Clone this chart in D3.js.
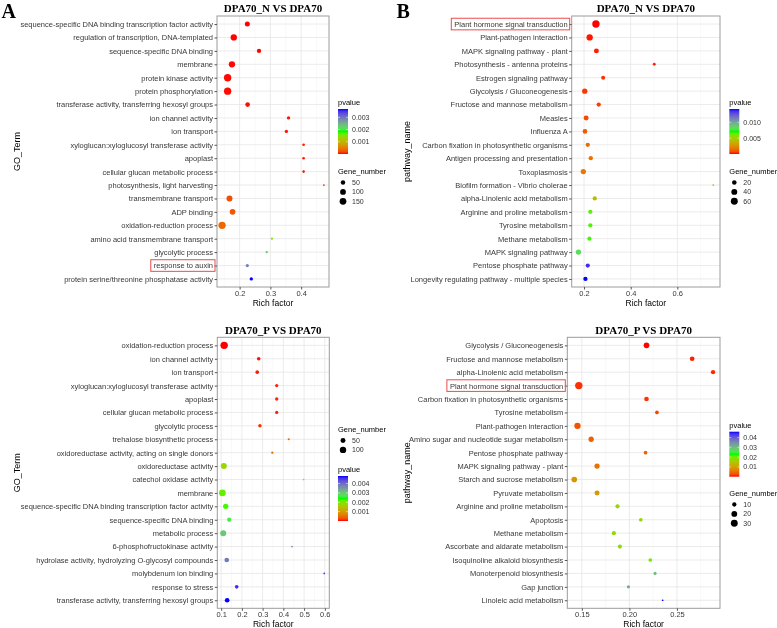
<!DOCTYPE html>
<meta charset="utf-8">
<style>
    body { margin: 0; background: #fff; }
    svg { font-family: "Liberation Sans", Arial, sans-serif; will-change: transform; }
</style>
<svg width="777" height="628"></svg>
<script src="https://d3js.org/d3.v7.min.js"></script>
<script>
    // ---- panel A: GO terms, DPA70_N vs DPA70 ----
    var termsA = ["sequence-specific DNA binding transcription factor activity", "regulation of transcription, DNA-templated",
        "sequence-specific DNA binding", "membrane", "protein kinase activity", "protein phosphorylation",
        "transferase activity, transferring hexosyl groups", "ion channel activity", "ion transport",
        "xyloglucan:xyloglucosyl transferase activity", "apoplast", "cellular glucan metabolic process",
        "photosynthesis, light harvesting", "transmembrane transport", "ADP binding", "oxidation-reduction process",
        "amino acid transmembrane transport", "glycolytic process", "response to auxin",
        "protein serine/threonine phosphatase activity"];
    var richA = [0.225, 0.181, 0.263, 0.175, 0.161, 0.161, 0.226, 0.359, 0.352, 0.408, 0.408, 0.408, 0.474, 0.167, 0.177, 0.143, 0.305, 0.288, 0.225, 0.238];
    var geneA = [67, 125, 44, 125, 190, 188, 55, 20, 19, 10, 10, 10, 5, 110, 95, 180, 7, 8, 18, 20];
    var pvalA = [0.000001, 0.000002, 0.000004, 0.000006, 0.000008, 0.00001, 0.000015, 0.00002, 0.000025, 0.00003, 0.00003, 0.00003, 0.00005, 0.0002, 0.00024, 0.00035, 0.00147, 0.0022, 0.0029, 0.00368];
    var ticksA = [0.2, 0.3, 0.4];
    var pBreaksA = [0.001, 0.002, 0.003];
    var gBreaksA = [50, 100, 150];

    // ---- panel B: KEGG pathways, DPA70_N vs DPA70 ----
    var termsB = ["Plant hormone signal transduction", "Plant-pathogen interaction", "MAPK signaling pathway - plant",
        "Photosynthesis - antenna proteins", "Estrogen signaling pathway", "Glycolysis / Gluconeogenesis",
        "Fructose and mannose metabolism", "Measles", "Influenza A", "Carbon fixation in photosynthetic organisms",
        "Antigen processing and presentation", "Toxoplasmosis", "Biofilm formation - Vibrio cholerae",
        "alpha-Linolenic acid metabolism", "Arginine and proline metabolism", "Tyrosine metabolism",
        "Methane metabolism", "MAPK signaling pathway", "Pentose phosphate pathway",
        "Longevity regulating pathway - multiple species"];
    var richB = [0.251, 0.224, 0.253, 0.501, 0.282, 0.203, 0.263, 0.209, 0.204, 0.216, 0.229, 0.197, 0.754, 0.246, 0.227, 0.227, 0.223, 0.176, 0.216, 0.206];
    var geneB = [70, 47, 25, 6, 14, 30, 17, 25, 21, 17, 17, 30, 3, 17, 17, 17, 16, 30, 16, 17];
    var pvalB = [0.000001, 0.0001, 0.00015, 0.0002, 0.0003, 0.0004, 0.0005, 0.0007, 0.001, 0.0014, 0.0016, 0.0018, 0.0040, 0.0041, 0.0066, 0.0067, 0.0068, 0.0082, 0.0136, 0.0142];
    var ticksB = [0.2, 0.4, 0.6];
    var pBreaksB = [0.005, 0.010];
    var gBreaksB = [20, 40, 60];

    // ---- panel C: GO terms, DPA70_P vs DPA70 ----
    var termsC = ["oxidation-reduction process", "ion channel activity", "ion transport",
        "xyloglucan:xyloglucosyl transferase activity", "apoplast", "cellular glucan metabolic process",
        "glycolytic process", "trehalose biosynthetic process", "oxidoreductase activity, acting on single donors",
        "oxidoreductase activity", "catechol oxidase activity", "membrane",
        "sequence-specific DNA binding transcription factor activity", "sequence-specific DNA binding",
        "metabolic process", "6-phosphofructokinase activity", "hydrolase activity, hydrolyzing O-glycosyl compounds",
        "molybdenum ion binding", "response to stress", "transferase activity, transferring hexosyl groups"];
    var richC = [0.1145, 0.281, 0.274, 0.368, 0.368, 0.368, 0.287, 0.426, 0.347, 0.113, 0.498, 0.106, 0.122, 0.139, 0.110, 0.442, 0.127, 0.597, 0.175, 0.129];
    var geneC = [150, 19, 19, 14, 14, 14, 16, 3, 4, 86, 2, 114, 62, 33, 86, 2, 42, 2, 19, 42];
    var pvalC = [0.000001, 0.00003, 0.00004, 0.00006, 0.00006, 0.00006, 0.0001, 0.00048, 0.00058, 0.0018, 0.002, 0.00216, 0.0023, 0.00264, 0.003, 0.0037, 0.00385, 0.0045, 0.0046, 0.0048];
    var ticksC = [0.1, 0.2, 0.3, 0.4, 0.5, 0.6];
    var pBreaksC = [0.001, 0.002, 0.003, 0.004];
    var gBreaksC = [50, 100];

    // ---- panel D: KEGG pathways, DPA70_P vs DPA70 ----
    var termsD = ["Glycolysis / Gluconeogenesis", "Fructose and mannose metabolism", "alpha-Linolenic acid metabolism",
        "Plant hormone signal transduction", "Carbon fixation in photosynthetic organisms", "Tyrosine metabolism",
        "Plant-pathogen interaction", "Amino sugar and nucleotide sugar metabolism", "Pentose phosphate pathway",
        "MAPK signaling pathway - plant", "Starch and sucrose metabolism", "Pyruvate metabolism",
        "Arginine and proline metabolism", "Apoptosis", "Methane metabolism", "Ascorbate and aldarate metabolism",
        "Isoquinoline alkaloid biosynthesis", "Monoterpenoid biosynthesis", "Gap junction", "Linoleic acid metabolism"];
    var richD = [0.218, 0.266, 0.288, 0.1468, 0.218, 0.229, 0.1454, 0.1598, 0.217, 0.166, 0.142, 0.166, 0.1875, 0.212, 0.1837, 0.190, 0.222, 0.227, 0.199, 0.235];
    var geneD = [19, 12, 10, 36, 12, 7, 25, 16, 7, 16, 19, 14, 9, 7, 9, 9, 7, 5, 5, 3];
    var pvalD = [0.00001, 0.0005, 0.0008, 0.001, 0.0012, 0.0018, 0.0028, 0.0037, 0.0039, 0.005, 0.0087, 0.0092, 0.017, 0.0175, 0.0176, 0.018, 0.0198, 0.03, 0.032, 0.046];
    var ticksD = [0.15, 0.20, 0.25];
    var pBreaksD = [0.01, 0.02, 0.03, 0.04];
    var gBreaksD = [10, 20, 30];

    var svg = d3.select("svg");
    var rainbow = d3.piecewise(d3.interpolateLab, ["#ff0000", "#00ff00", "#0000ff"]);
    var gradId = 0;

    function drawPanel(c) {
        var g = svg.append("g");
        var ext = d3.extent(c.rich), pad = (ext[1] - ext[0]) * 0.05;
        var x = d3.scaleLinear().domain([ext[0] - pad, ext[1] + pad]).range([c.left, c.right]);
        var y = d3.scalePoint().domain(c.terms).range([c.top, c.bottom]).padding(0.6);
        var col = d3.scaleSequential(rainbow).domain(d3.extent(c.pval));
        var gExt = d3.extent(c.genes);
        var diam = d3.scaleLinear().domain([0, 1]).range([1.7, 7.4]);
        function r(v) { return diam(Math.sqrt((v - gExt[0]) / (gExt[1] - gExt[0]))) / 2; }

        // grid
        var minor = [];
        var step = c.ticks[1] - c.ticks[0];
        for (var t = c.ticks[0] - step / 2; t < x.domain()[1]; t += step) {
            if (t > x.domain()[0]) minor.push(t);
        }
        g.selectAll(".minor").data(minor).enter().append("line")
            .attr("x1", x).attr("x2", x).attr("y1", c.top).attr("y2", c.bottom)
            .attr("stroke", "#f3f3f3").attr("stroke-width", 0.5);
        g.selectAll(".vmaj").data(c.ticks).enter().append("line")
            .attr("x1", x).attr("x2", x).attr("y1", c.top).attr("y2", c.bottom)
            .attr("stroke", "#e6e6e6").attr("stroke-width", 0.8);
        g.selectAll(".hmaj").data(c.terms).enter().append("line")
            .attr("x1", c.left).attr("x2", c.right).attr("y1", y).attr("y2", y)
            .attr("stroke", "#e6e6e6").attr("stroke-width", 0.8);

        // points
        g.selectAll(".pt").data(c.terms).enter().append("circle")
            .attr("cx", function(d, i) { return x(c.rich[i]); })
            .attr("cy", function(d) { return y(d); })
            .attr("r", function(d, i) { return r(c.genes[i]); })
            .attr("fill", function(d, i) { return col(c.pval[i]); });

        g.append("rect")
            .attr("x", c.left).attr("y", c.top)
            .attr("width", c.right - c.left).attr("height", c.bottom - c.top)
            .attr("fill", "none").attr("stroke", "#9c9c9c").attr("stroke-width", 1);

        // axes
        var ya = g.append("g").attr("transform", "translate(" + c.left + ",0)")
            .call(d3.axisLeft(y).tickSize(2.5).tickPadding(1.5));
        var xa = g.append("g").attr("transform", "translate(0," + c.bottom + ")")
            .call(d3.axisBottom(x).tickValues(c.ticks).tickFormat(d3.format(c.fmt)).tickSize(2.5).tickPadding(1.2));
        [ya, xa].forEach(function(a) {
            a.select(".domain").remove();
            a.selectAll("line").attr("stroke", "#555");
            a.selectAll("text").attr("fill", "#383838").style("font-size", "7.5px")
                .style("font-family", "'Liberation Sans', Arial, sans-serif");
        });

        // highlighted label
        if (c.box) {
            ya.selectAll(".tick").filter(function(d) { return d === c.box; }).each(function() {
                var bb = d3.select(this).select("text").node().getBBox();
                g.append("rect")
                    .attr("x", c.left + bb.x - 3).attr("y", y(c.box) - 5.8)
                    .attr("width", bb.width + 5).attr("height", 11.6)
                    .attr("fill", "none").attr("stroke", "#ee4a4a").attr("stroke-width", 1);
            });
        }

        // titles
        g.append("text").attr("x", (c.left + c.right) / 2).attr("y", c.top - 3.8)
            .attr("text-anchor", "middle").style("font-family", "'Liberation Serif', 'Times New Roman', serif")
            .style("font-weight", "bold").style("font-size", "11px").text(c.title);
        g.append("text").attr("x", (c.left + c.right) / 2).attr("y", c.bottom + 19)
            .attr("text-anchor", "middle").style("font-size", "8.5px").text("Rich factor");
        g.append("text").attr("transform", "translate(" + c.ylabX + "," + (c.top + c.bottom) / 2 + ") rotate(-90)")
            .attr("text-anchor", "middle").style("font-size", "9px").text(c.ylab);
        if (c.letter) {
            g.append("text").attr("x", c.letterX).attr("y", 17.5)
                .style("font-family", "'Liberation Serif', 'Times New Roman', serif")
                .style("font-weight", "bold").style("font-size", "20px").text(c.letter);
        }

        // pvalue colourbar
        var id = "grad" + (gradId++);
        var grad = svg.append("defs").append("linearGradient").attr("id", id)
            .attr("x1", 0).attr("y1", 1).attr("x2", 0).attr("y2", 0);
        d3.range(0, 1.0001, 0.05).forEach(function(s) {
            grad.append("stop").attr("offset", s).attr("stop-color", rainbow(s));
        });
        var lx = c.legX, bt = c.pTop, bh = 45;
        g.append("text").attr("x", lx).attr("y", bt - 4).style("font-size", "7.5px").text("pvalue");
        g.append("rect").attr("x", lx).attr("y", bt).attr("width", 10).attr("height", bh).attr("fill", "url(#" + id + ")");
        var py = d3.scaleLinear().domain(col.domain()).range([bt + bh, bt]);
        c.pBreaks.forEach(function(b) {
            g.append("line").attr("x1", lx).attr("x2", lx + 2).attr("y1", py(b)).attr("y2", py(b)).attr("stroke", "#fff").attr("stroke-width", 0.5);
            g.append("line").attr("x1", lx + 8).attr("x2", lx + 10).attr("y1", py(b)).attr("y2", py(b)).attr("stroke", "#fff").attr("stroke-width", 0.5);
            g.append("text").attr("x", lx + 14).attr("y", py(b)).attr("dy", "0.35em")
                .attr("fill", "#333").style("font-size", "7px").text(d3.format(c.pFmt)(b));
        });

        // Gene_number legend
        var gt = c.gTop;
        g.append("text").attr("x", lx).attr("y", gt).style("font-size", "7.5px").text("Gene_number");
        c.gBreaks.forEach(function(b, i) {
            var yy = gt + 8.5 + i * 9.4;
            g.append("circle").attr("cx", lx + 5).attr("cy", yy).attr("r", r(b)).attr("fill", "#000");
            g.append("text").attr("x", lx + 14).attr("y", yy).attr("dy", "0.35em")
                .attr("fill", "#333").style("font-size", "7px").text(b);
        });
    }

    drawPanel({terms: termsA, rich: richA, genes: geneA, pval: pvalA, ticks: ticksA, fmt: ".1f",
        pBreaks: pBreaksA, pFmt: ".3f", gBreaks: gBreaksA, left: 217, right: 329, top: 16, bottom: 287,
        title: "DPA70_N VS DPA70", ylab: "GO_Term", ylabX: 20, letter: "A", letterX: 1.5,
        legX: 338, pTop: 109, gTop: 174, box: "response to auxin"});
    drawPanel({terms: termsB, rich: richB, genes: geneB, pval: pvalB, ticks: ticksB, fmt: ".1f",
        pBreaks: pBreaksB, pFmt: ".3f", gBreaks: gBreaksB, left: 571.7, right: 720, top: 16, bottom: 287,
        title: "DPA70_N VS DPA70", ylab: "pathway_name", ylabX: 410, letter: "B", letterX: 396.5,
        legX: 729.3, pTop: 109, gTop: 174, box: "Plant hormone signal transduction"});
    drawPanel({terms: termsC, rich: richC, genes: geneC, pval: pvalC, ticks: ticksC, fmt: ".1f",
        pBreaks: pBreaksC, pFmt: ".3f", gBreaks: gBreaksC, left: 217.3, right: 329.3, top: 337.3, bottom: 608.3,
        title: "DPA70_P VS DPA70", ylab: "GO_Term", ylabX: 20,
        legX: 338, pTop: 476, gTop: 432});
    drawPanel({terms: termsD, rich: richD, genes: geneD, pval: pvalD, ticks: ticksD, fmt: ".2f",
        pBreaks: pBreaksD, pFmt: ".2f", gBreaks: gBreaksD, left: 567.3, right: 720, top: 337.3, bottom: 608.3,
        title: "DPA70_P VS DPA70", ylab: "pathway_name", ylabX: 410,
        legX: 729.3, pTop: 431.7, gTop: 496, box: "Plant hormone signal transduction"});
</script>
